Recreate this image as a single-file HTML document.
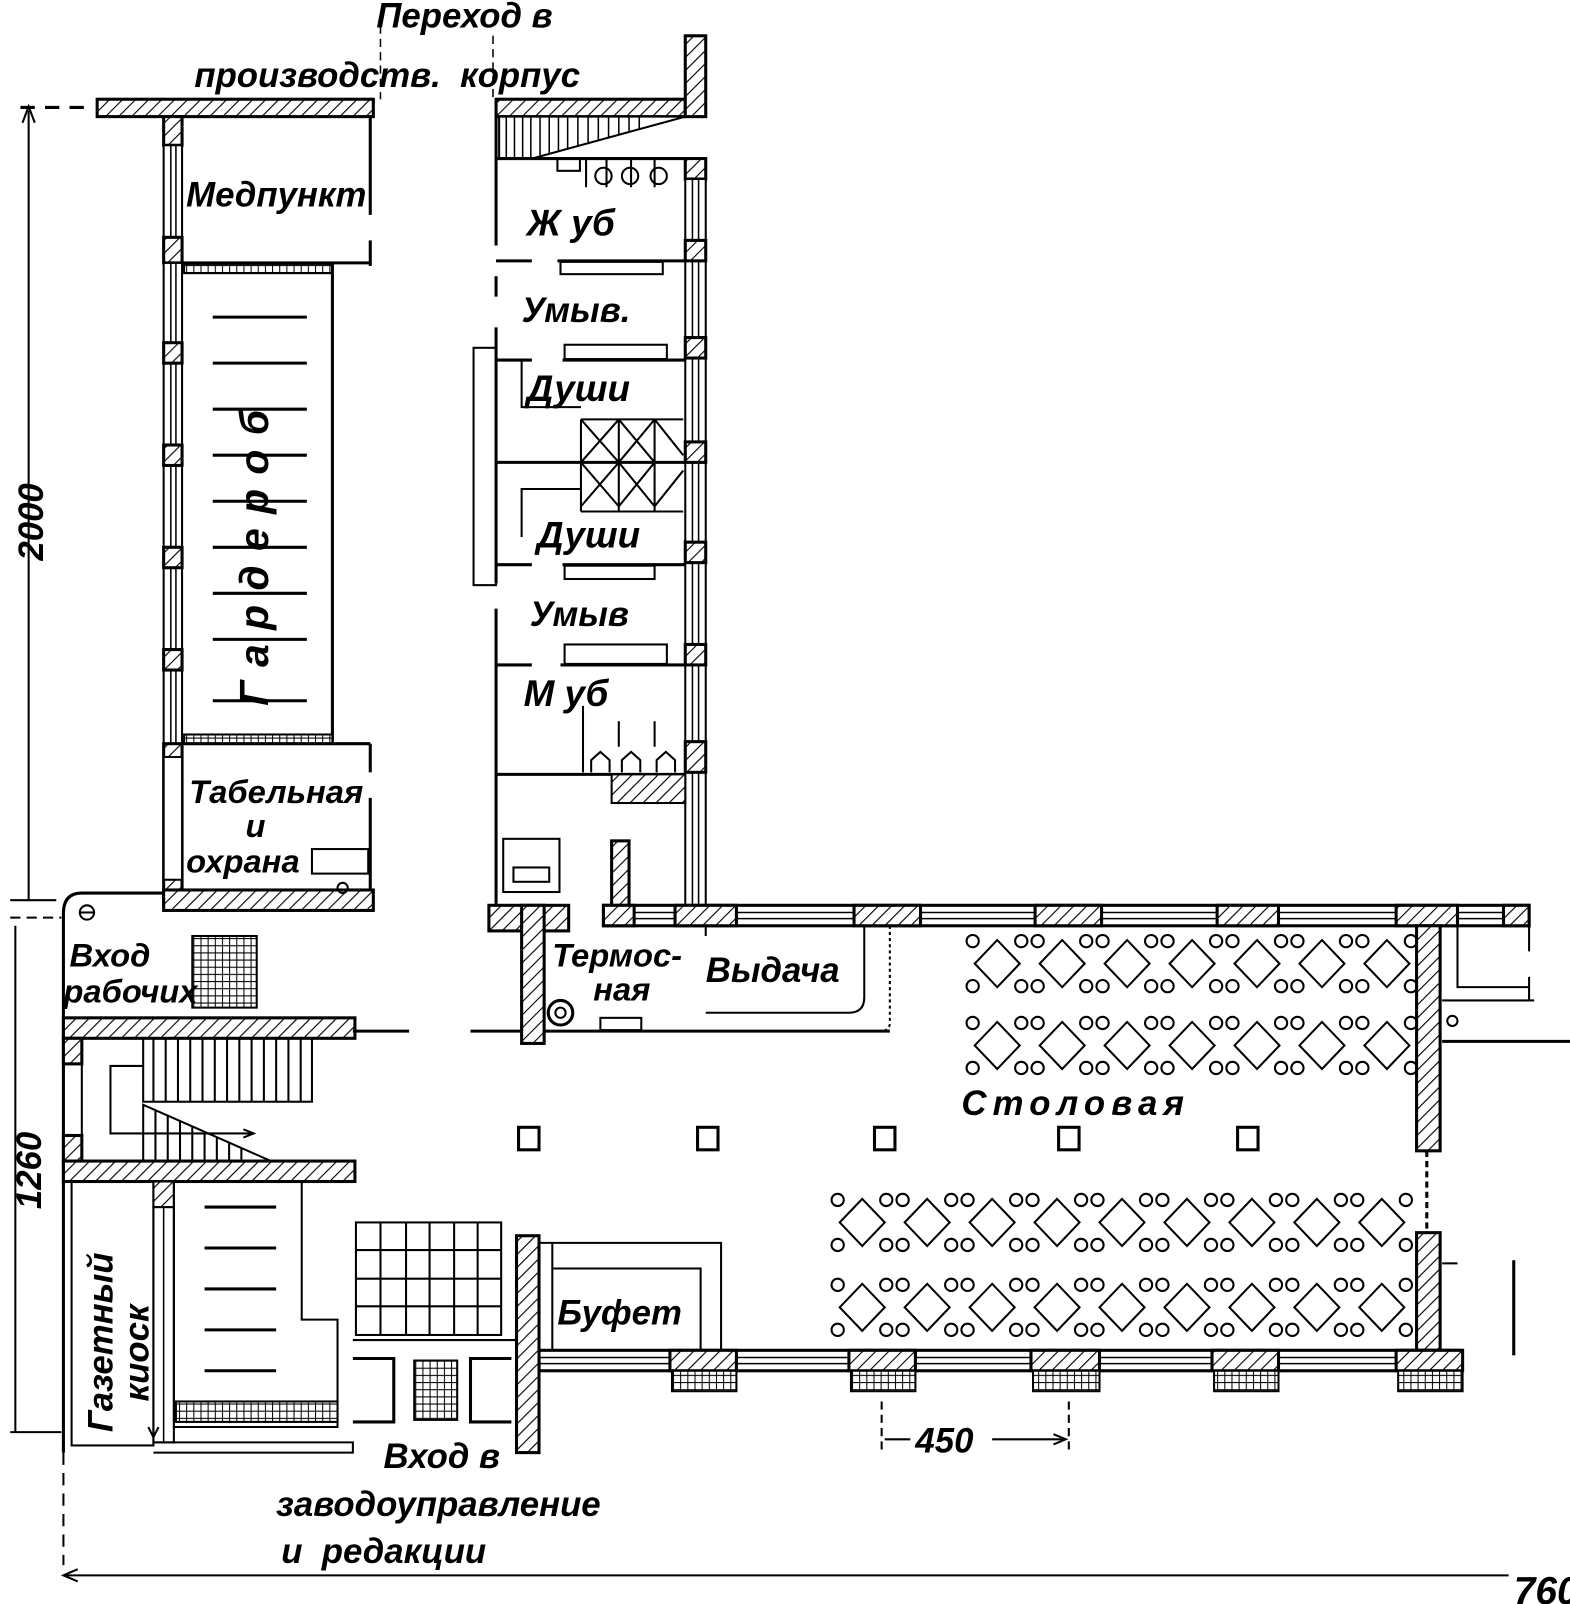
<!DOCTYPE html>
<html><head><meta charset="utf-8"><style>
html,body{margin:0;padding:0;background:#fff;}
svg{display:block;}
text{font-family:"Liberation Sans Narrow","Liberation Sans",sans-serif;font-style:italic;font-weight:bold;fill:#000;}
</style></head><body>
<svg id="s" width="1570" height="1604" viewBox="0 0 1535 1568" preserveAspectRatio="none" xmlns="http://www.w3.org/2000/svg">
<defs>
<pattern id="h" patternUnits="userSpaceOnUse" width="9" height="9" patternTransform="rotate(45)">
<rect width="9" height="9" fill="#fff"/><line x1="0" y1="0" x2="0" y2="9" stroke="#000" stroke-width="2.2"/>
</pattern>
<pattern id="g" patternUnits="userSpaceOnUse" width="7" height="7"><rect width="7" height="7" fill="#fff"/><path d="M0 0H7M0 0V7" stroke="#000" stroke-width="2"/></pattern>
</defs>
<g stroke="#000" stroke-width="3" fill="none">
<line x1="372" y1="25" x2="372" y2="97" stroke-width="1.5" stroke-dasharray="8 5"/>
<line x1="482" y1="35" x2="482" y2="97" stroke-width="1.5" stroke-dasharray="8 5"/>
<rect x="95" y="97" width="270" height="17" fill="url(#h)"/>
<line x1="20" y1="105" x2="92" y2="105" stroke-dasharray="14 10"/>
<rect x="160" y="114" width="18" height="28" fill="url(#h)"/>
<rect x="160" y="142" width="18" height="90" fill="#fff" stroke-width="2"/>
<line x1="167" y1="142" x2="167" y2="232" stroke-width="1.5"/><line x1="172" y1="142" x2="172" y2="232" stroke-width="1.5"/>
<rect x="160" y="232" width="18" height="25" fill="url(#h)"/>
<rect x="160" y="257" width="18" height="470" fill="#fff" stroke-width="2"/>
<line x1="167" y1="257" x2="167" y2="727" stroke-width="1.5"/><line x1="172" y1="257" x2="172" y2="727" stroke-width="1.5"/>
<rect x="160" y="335" width="18" height="20" fill="url(#h)"/>
<rect x="160" y="435" width="18" height="20" fill="url(#h)"/>
<rect x="160" y="535" width="18" height="20" fill="url(#h)"/>
<rect x="160" y="635" width="18" height="20" fill="url(#h)"/>
<rect x="160" y="727" width="18" height="158" fill="url(#h)"/>
<rect x="160" y="740" width="18" height="120" fill="#fff" stroke-width="2"/>
<rect x="160" y="870" width="205" height="20" fill="url(#h)"/>
<line x1="362" y1="114" x2="362" y2="210"/>
<line x1="362" y1="235" x2="362" y2="260"/>
<line x1="178" y1="257" x2="362" y2="257"/>
<rect x="180" y="258" width="145" height="9" fill="url(#g)" stroke-width="2"/>
<line x1="325" y1="258" x2="325" y2="725"/>
<rect x="180" y="718" width="145" height="9" fill="url(#g)" stroke-width="2"/>
<line x1="178" y1="727" x2="362" y2="727"/>
<line x1="362" y1="727" x2="362" y2="755"/>
<line x1="362" y1="780" x2="362" y2="870"/>
<rect x="305" y="830" width="55" height="24" stroke-width="2"/>
<circle cx="335" cy="868" r="5" stroke-width="2"/>
<g stroke-width="3">
<line x1="208" y1="310" x2="300" y2="310"/><line x1="208" y1="355" x2="300" y2="355"/><line x1="208" y1="400" x2="300" y2="400"/><line x1="208" y1="445" x2="300" y2="445"/><line x1="208" y1="490" x2="300" y2="490"/><line x1="208" y1="535" x2="300" y2="535"/><line x1="208" y1="580" x2="300" y2="580"/><line x1="208" y1="625" x2="300" y2="625"/><line x1="208" y1="685" x2="300" y2="685"/>
</g>
<rect x="485" y="97" width="185" height="17" fill="url(#h)"/>
<rect x="670" y="35" width="20" height="79" fill="url(#h)"/>
<path d="M488 114V155H520L670 114Z" fill="#fff" stroke-width="2"/>
<g stroke-width="1.5"><line x1="495" y1="114" x2="495" y2="155"/><line x1="503" y1="114" x2="503" y2="155"/><line x1="511" y1="114" x2="511" y2="155"/><line x1="519" y1="114" x2="519" y2="155"/><line x1="528" y1="114" x2="528" y2="152"/><line x1="537" y1="114" x2="537" y2="150"/><line x1="546" y1="114" x2="546" y2="147"/><line x1="555" y1="114" x2="555" y2="145"/><line x1="565" y1="114" x2="565" y2="142"/><line x1="575" y1="114" x2="575" y2="139"/><line x1="585" y1="114" x2="585" y2="137"/><line x1="595" y1="114" x2="595" y2="134"/><line x1="605" y1="114" x2="605" y2="131"/><line x1="615" y1="114" x2="615" y2="128"/><line x1="625" y1="114" x2="625" y2="126"/></g>
<line x1="485" y1="155" x2="670" y2="155"/>
<line x1="485" y1="110" x2="485" y2="240"/>
<line x1="485" y1="270" x2="485" y2="290"/>
<line x1="485" y1="320" x2="485" y2="570"/>
<line x1="485" y1="595" x2="485" y2="885"/>
<rect x="670" y="155" width="20" height="20" fill="url(#h)"/>
<rect x="670" y="175" width="20" height="710" fill="#fff" stroke-width="2"/>
<line x1="677" y1="175" x2="677" y2="885" stroke-width="1.5"/><line x1="683" y1="175" x2="683" y2="885" stroke-width="1.5"/>
<rect x="670" y="235" width="20" height="20" fill="url(#h)"/>
<rect x="670" y="330" width="20" height="20" fill="url(#h)"/>
<rect x="670" y="432" width="20" height="20" fill="url(#h)"/>
<rect x="670" y="530" width="20" height="20" fill="url(#h)"/>
<rect x="670" y="630" width="20" height="20" fill="url(#h)"/>
<rect x="670" y="725" width="20" height="30" fill="url(#h)"/>
<rect x="545" y="155" width="22" height="12" stroke-width="2"/>
<path d="M573 155v28M593 155v28M617 155v28M640 155v28" stroke-width="2"/>
<circle cx="590" cy="172" r="8" stroke-width="2"/><circle cx="616" cy="172" r="8" stroke-width="2"/><circle cx="644" cy="172" r="8" stroke-width="2"/>
<line x1="485" y1="255" x2="520" y2="255"/><line x1="545" y1="255" x2="670" y2="255"/>
<rect x="548" y="256" width="100" height="12" stroke-width="2"/>
<line x1="485" y1="352" x2="520" y2="352"/><line x1="550" y1="352" x2="670" y2="352"/>
<rect x="552" y="337" width="100" height="14" stroke-width="2"/>
<rect x="463" y="340" width="22" height="232" stroke-width="2"/>
<line x1="485" y1="452" x2="670" y2="452"/>
<path d="M510 352V398H568M510 525V478H568" stroke-width="2"/>
<path d="M568 410H668M568 410V500M568 500H668M568 410L605 452L568 495M605 410L568 452L605 495M605 410L640 452L605 495M640 410L605 452L640 495M640 410L668 445M668 460L640 495M605 410V500M640 410V500" stroke-width="2"/>
<line x1="485" y1="552" x2="520" y2="552"/><line x1="550" y1="552" x2="670" y2="552"/>
<rect x="552" y="553" width="88" height="13" stroke-width="2"/>
<line x1="485" y1="650" x2="520" y2="650"/><line x1="548" y1="650" x2="670" y2="650"/>
<rect x="552" y="630" width="100" height="19" stroke-width="2"/>
<line x1="570" y1="690" x2="570" y2="755" stroke-width="2"/>
<line x1="605" y1="705" x2="605" y2="730" stroke-width="2"/><line x1="640" y1="705" x2="640" y2="730" stroke-width="2"/>
<path d="M578 755v-12l9-8 9 8v12M608 755v-12l9-8 9 8v12M642 755v-12l9-8 9 8v12" stroke-width="2"/>
<line x1="485" y1="757" x2="670" y2="757"/>
<rect x="598" y="757" width="72" height="28" fill="url(#h)" stroke-width="2"/>
<rect x="492" y="820" width="55" height="52" stroke-width="2"/>
<rect x="502" y="848" width="35" height="14" stroke-width="2"/>
<rect x="598" y="822" width="17" height="65" fill="url(#h)"/>
<rect x="478" y="885" width="78" height="25" fill="url(#h)"/>
<rect x="510" y="885" width="22" height="135" fill="url(#h)"/>
<line x1="532" y1="1008" x2="870" y2="1008"/>
<line x1="460" y1="1008" x2="510" y2="1008"/>
<circle cx="548" cy="990" r="12"/><circle cx="548" cy="990" r="5" stroke-width="2"/>
<rect x="587" y="995" width="40" height="12" stroke-width="2"/>
<path d="M690 905V915M690 990H830Q845 990 845 975V905" stroke-width="2"/>
<path d="M870 905V1000Q870 1008 860 1008" stroke-width="2" stroke-dasharray="3 3"/>
<rect x="590" y="885" width="905" height="20" fill="#fff"/>
<line x1="590" y1="892" x2="1495" y2="892" stroke-width="1.5"/><line x1="590" y1="898" x2="1495" y2="898" stroke-width="1.5"/>
<rect x="590" y="885" width="30" height="20" fill="url(#h)"/>
<rect x="660" y="885" width="60" height="20" fill="url(#h)"/>
<rect x="835" y="885" width="65" height="20" fill="url(#h)"/>
<rect x="1012" y="885" width="65" height="20" fill="url(#h)"/>
<rect x="1190" y="885" width="60" height="20" fill="url(#h)"/>
<rect x="1365" y="885" width="60" height="20" fill="url(#h)"/>
<rect x="1470" y="885" width="25" height="20" fill="url(#h)"/>
<rect x="1385" y="905" width="23" height="220" fill="url(#h)"/>
<line x1="1395" y1="1125" x2="1395" y2="1205" stroke-dasharray="6 4"/>
<rect x="1385" y="1205" width="23" height="115" fill="url(#h)"/>
<path d="M1425 905V965H1495M1495 905V930M1495 955V978M1410 978H1500" stroke-width="2"/>
<line x1="1410" y1="1018" x2="1535" y2="1018"/>
<circle cx="1420" cy="998" r="5" stroke-width="2"/>
<line x1="1480" y1="1232" x2="1480" y2="1325"/>
<line x1="1410" y1="1235" x2="1425" y2="1235" stroke-width="2"/>
<rect x="527" y="1320" width="900" height="20" fill="#fff"/>
<line x1="527" y1="1327" x2="1427" y2="1327" stroke-width="1.5"/><line x1="527" y1="1333" x2="1427" y2="1333" stroke-width="1.5"/>
<rect x="655" y="1320" width="65" height="20" fill="url(#h)"/>
<rect x="830" y="1320" width="65" height="20" fill="url(#h)"/>
<rect x="1008" y="1320" width="67" height="20" fill="url(#h)"/>
<rect x="1185" y="1320" width="65" height="20" fill="url(#h)"/>
<rect x="1365" y="1320" width="65" height="20" fill="url(#h)"/>
<rect x="657" y="1340" width="63" height="20" fill="url(#g)" stroke-width="2"/>
<rect x="832" y="1340" width="63" height="20" fill="url(#g)" stroke-width="2"/>
<rect x="1010" y="1340" width="65" height="20" fill="url(#g)" stroke-width="2"/>
<rect x="1187" y="1340" width="63" height="20" fill="url(#g)" stroke-width="2"/>
<rect x="1367" y="1340" width="63" height="20" fill="url(#g)" stroke-width="2"/>
<rect x="507" y="1102" width="20" height="22"/><rect x="682" y="1102" width="20" height="22"/><rect x="855" y="1102" width="20" height="22"/><rect x="1035" y="1102" width="20" height="22"/><rect x="1210" y="1102" width="20" height="22"/>
<path d="M160 873H80Q62 873 62 893V1420" />
<circle cx="85" cy="892" r="7" stroke-width="2"/><line x1="78" y1="892" x2="92" y2="892" stroke-width="2"/>
<rect x="188" y="915" width="63" height="70" fill="url(#g)" stroke-width="2"/>
<rect x="62" y="995" width="285" height="20" fill="url(#h)"/>
<rect x="62" y="1015" width="18" height="25" fill="url(#h)"/>
<rect x="62" y="1040" width="18" height="70" stroke-width="2"/>
<rect x="62" y="1110" width="18" height="25" fill="url(#h)"/>
<rect x="62" y="1135" width="285" height="20" fill="url(#h)"/>
<g stroke-width="2"><rect x="140" y="1015" width="165" height="62"/>
<path d="M150 1015v62M162 1015v62M174 1015v62M186 1015v62M198 1015v62M210 1015v62M222 1015v62M234 1015v62M246 1015v62M258 1015v62M270 1015v62M282 1015v62M294 1015v62"/>
<path d="M140 1080L265 1135H140ZM152 1085v50M164 1090v45M176 1096v39M188 1101v34M200 1107v28M212 1112v23M224 1117v18M236 1123v12"/>
<path d="M140 1042H108V1108H245"/><path d="M238 1104l10 4-10 4"/></g>
<line x1="345" y1="1008" x2="400" y2="1008"/>
<rect x="70" y="1155" width="80" height="258" stroke-width="2"/>
<rect x="150" y="1155" width="20" height="25" fill="url(#h)" stroke-width="2"/>
<rect x="150" y="1180" width="20" height="230" stroke-width="2"/>
<line x1="160" y1="1180" x2="160" y2="1410" stroke-width="1.5"/>
<path d="M170 1155H295V1290H330V1395H170Z" stroke-width="2"/>
<rect x="172" y="1370" width="158" height="20" fill="url(#g)" stroke-width="2"/>
<g stroke-width="3"><line x1="200" y1="1180" x2="270" y2="1180"/><line x1="200" y1="1220" x2="270" y2="1220"/><line x1="200" y1="1260" x2="270" y2="1260"/><line x1="200" y1="1300" x2="270" y2="1300"/><line x1="200" y1="1340" x2="270" y2="1340"/></g>
<path d="M150 1410H345V1420H150" stroke-width="2"/>
<rect x="348" y="1195" width="142" height="110" stroke-width="2"/>
<path d="M348 1222H490M348 1250H490M348 1277H490M372 1195V1305M397 1195V1305M420 1195V1305M444 1195V1305M467 1195V1305" stroke-width="2"/>
<path d="M345 1328H385V1390H345" stroke-width="3"/>
<rect x="405" y="1330" width="42" height="58" fill="url(#g)" stroke-width="2"/>
<path d="M500 1328H460V1390H500" stroke-width="3"/>
<path d="M345 1310H505" stroke-width="2"/>
<rect x="505" y="1208" width="22" height="212" fill="url(#h)"/>
<path d="M527 1215H705V1320M540 1240H685V1320M540 1215V1320" stroke-width="2"/>
<line x1="28" y1="108" x2="28" y2="880" stroke-width="2"/>
<path d="M22 120L28 104L34 120" stroke-width="2"/>
<line x1="10" y1="880" x2="55" y2="880" stroke-width="2"/>
<line x1="10" y1="897" x2="60" y2="897" stroke-width="2" stroke-dasharray="10 6"/>
<line x1="15" y1="905" x2="15" y2="1400" stroke-width="2"/>
<line x1="10" y1="1400" x2="60" y2="1400" stroke-width="2"/>
<line x1="62" y1="1420" x2="62" y2="1530" stroke-width="2" stroke-dasharray="12 8"/>
<line x1="62" y1="1540" x2="1475" y2="1540" stroke-width="2"/>
<path d="M76 1534L62 1540L76 1546" stroke-width="2"/>
<line x1="862" y1="1370" x2="862" y2="1420" stroke-width="2" stroke-dasharray="8 5"/>
<line x1="1045" y1="1370" x2="1045" y2="1420" stroke-width="2" stroke-dasharray="8 5"/>
<line x1="865" y1="1407" x2="890" y2="1407" stroke-width="2"/>
<line x1="970" y1="1407" x2="1040" y2="1407" stroke-width="2"/>
<path d="M1030 1402l12 5-12 5" stroke-width="2"/>
<path d="M145 1395l5 10 5-10" stroke-width="2"/>
<g id="tables" stroke-width="2"></g>
</g>
<text x="368" y="27" font-size="34">Переход в</text>
<text x="190" y="85" font-size="34">производств.&#160; корпус</text>
<text x="182" y="202" font-size="34">Медпункт</text>
<text x="515" y="230" font-size="36">Ж уб</text>
<text x="510" y="315" font-size="34">Умыв.</text>
<text x="515" y="392" font-size="36">Души</text>
<text x="525" y="535" font-size="36">Души</text>
<text x="518" y="612" font-size="34">Умыв</text>
<text x="512" y="690" font-size="36">М уб</text>
<text x="185" y="785" font-size="32">Табельная</text>
<text x="240" y="818" font-size="32">и</text>
<text x="182" y="853" font-size="32">охрана</text>
<text x="68" y="945" font-size="32">Вход</text>
<text x="62" y="980" font-size="32">рабочих</text>
<text x="540" y="945" font-size="32">Термос-</text>
<text x="580" y="978" font-size="32">ная</text>
<text x="690" y="960" font-size="34">Выдача</text>
<text x="940" y="1090" font-size="34" letter-spacing="6">Столовая</text>
<text x="545" y="1295" font-size="34">Буфет</text>
<text x="375" y="1435" font-size="34">Вход в</text>
<text x="270" y="1482" font-size="34">заводоуправление</text>
<text x="275" y="1528" font-size="34">и&#160; редакции</text>
<text x="895" y="1420" font-size="34">450</text>
<text x="1480" y="1568" font-size="38">760</text>
<text transform="translate(42,548) rotate(-90)" font-size="34">2000</text>
<text transform="translate(40,1182) rotate(-90)" font-size="34">1260</text>
<text transform="translate(110,1400) rotate(-90)" font-size="34">Газетный</text>
<text transform="translate(145,1370) rotate(-90)" font-size="34">киоск</text>
<text transform="translate(262,690) rotate(-90)" font-size="40" letter-spacing="14">Гардероб</text>
</svg>
<script>
var g=document.getElementById('tables'),ns='http://www.w3.org/2000/svg';
function row(x0,n,cy){for(var i=0;i<n;i++){var cx=x0+i*63.5;var p=document.createElementNS(ns,'path');
p.setAttribute('d','M'+cx+' '+(cy-23)+'L'+(cx+22)+' '+cy+'L'+cx+' '+(cy+23)+'L'+(cx-22)+' '+cy+'Z');g.appendChild(p);}
for(var i=0;i<=n;i++){var mx=x0-32+i*63.5;[[-8,-22],[8,-22],[-8,22],[8,22]].forEach(function(o){
if(i==0&&o[0]<0)return; if(i==n&&o[0]>0)return;
var c=document.createElementNS(ns,'circle');c.setAttribute('cx',mx+o[0]);c.setAttribute('cy',cy+o[1]);c.setAttribute('r',6);g.appendChild(c);});}}
row(975,7,942);row(975,7,1022);row(843,9,1195);row(843,9,1278);
</script>
</body></html>
